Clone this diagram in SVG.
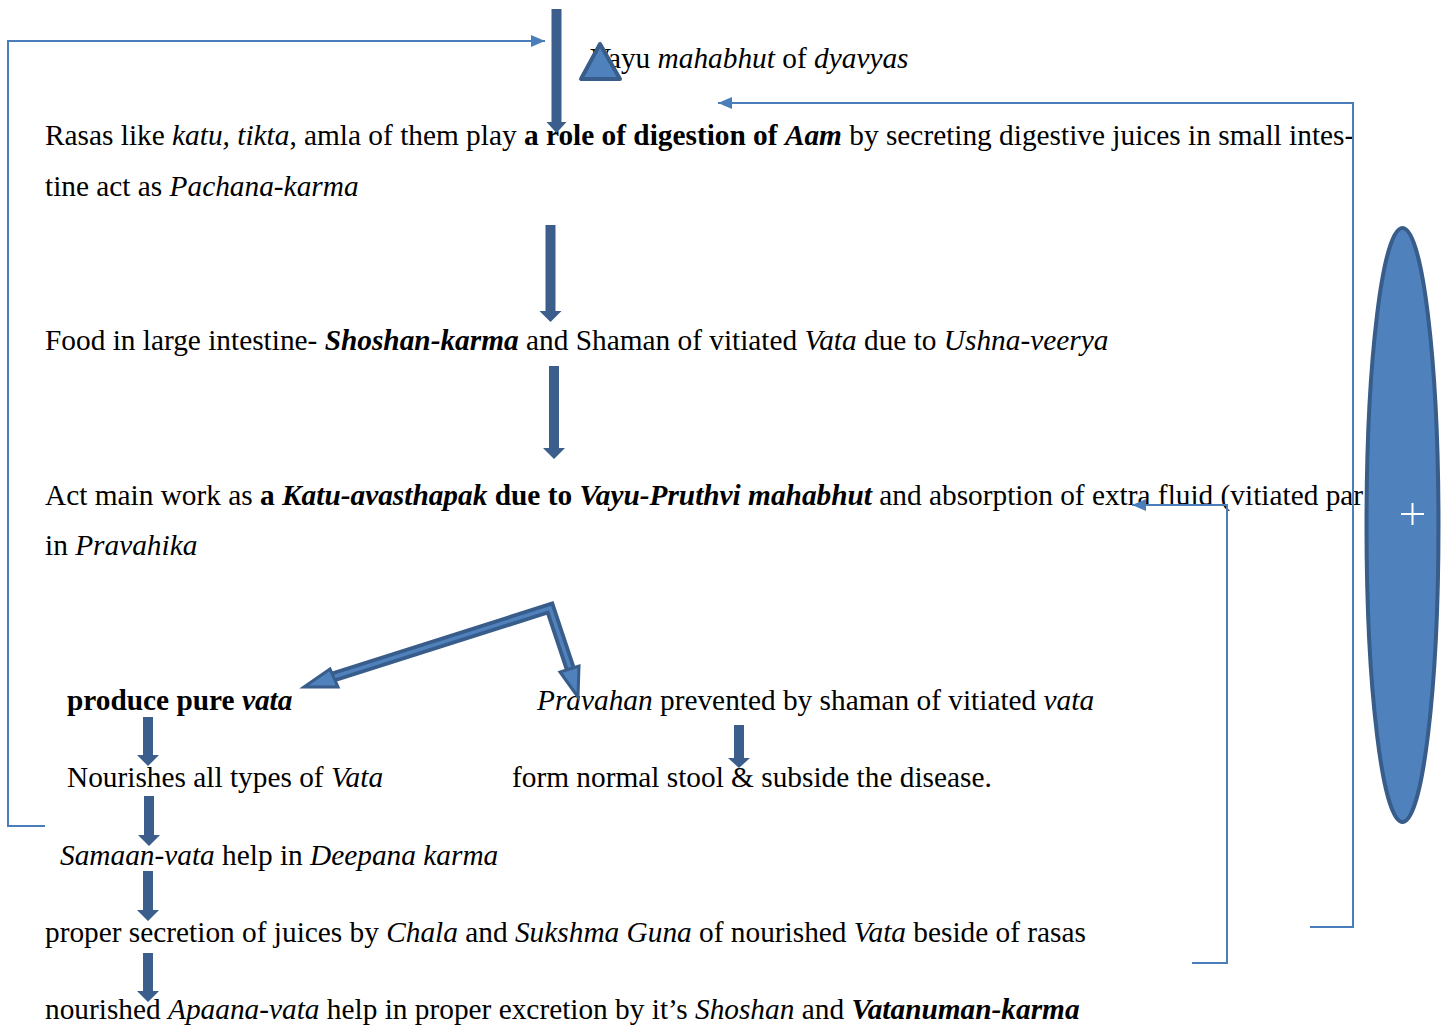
<svg xmlns="http://www.w3.org/2000/svg" width="1450" height="1026" viewBox="0 0 1450 1026">
<style>
text{font-family:"Liberation Serif","Times New Roman",serif;font-size:29.33px;fill:#000}
.i{font-style:italic}
.b{font-weight:bold}
.conn{fill:none;stroke:#4a7ebb;stroke-width:2}
.blk{fill:#3b5e8c;stroke:none}
.shape{fill:#4f81bd;stroke:#385d8a;stroke-width:4;stroke-linejoin:round}
</style>
<defs>
<marker id="ah" viewBox="0 0 14 12" markerWidth="14" markerHeight="12" refX="14" refY="6" orient="auto" markerUnits="userSpaceOnUse">
<path d="M0,0 L14,6 L0,12 z" fill="#4a7ebb"/>
</marker>
</defs>
<rect width="1450" height="1026" fill="#fff"/>

<g id="n-vayu"><text x="590" y="68">Vayu <tspan class="i">mahabhut</tspan> of <tspan class="i">dyavyas</tspan></text></g>
<g id="n-rasas">
<text x="45" y="145">Rasas like <tspan class="i">katu, tikta</tspan>, amla of them play <tspan class="b">a role of digestion of </tspan><tspan class="b i">Aam</tspan> by secreting digestive juices in small intes-</text>
<text x="45" y="196">tine act as <tspan class="i">Pachana-karma</tspan></text>
</g>
<g id="n-food"><text x="45" y="350">Food in large intestine- <tspan class="b i">Shoshan-karma</tspan> and Shaman of vitiated <tspan class="i">Vata</tspan> due to <tspan class="i">Ushna-veerya</tspan></text></g>
<g id="n-act">
<text x="45" y="505">Act main work as <tspan class="b">a </tspan><tspan class="b i">Katu-avasthapak</tspan><tspan class="b"> due to </tspan><tspan class="b i">Vayu-Pruthvi mahabhut</tspan> and absorption of extra fluid (vitiated par</text>
<text x="45" y="555">in <tspan class="i">Pravahika</tspan></text>
</g>
<g id="n-produce"><text x="67" y="710" class="b">produce pure <tspan class="i">vata</tspan></text></g>
<g id="n-pravahan"><text x="537" y="710"><tspan class="i">Pravahan</tspan> prevented by shaman of vitiated <tspan class="i">vata</tspan></text></g>
<g id="n-nourishes"><text x="67" y="787">Nourishes all types of <tspan class="i">Vata</tspan></text></g>
<g id="n-stool"><text x="512" y="787">form normal stool &amp; subside the disease.</text></g>
<g id="n-samaan"><text x="60" y="865"><tspan class="i">Samaan-vata</tspan> help in <tspan class="i">Deepana karma</tspan></text></g>
<g id="n-secretion"><text x="45" y="942">proper secretion of juices by <tspan class="i">Chala</tspan> and <tspan class="i">Sukshma Guna</tspan> of nourished <tspan class="i">Vata</tspan> beside of rasas</text></g>
<g id="n-apaana"><text x="45" y="1019">nourished <tspan class="i">Apaana-vata</tspan> help in proper excretion by it’s <tspan class="i">Shoshan</tspan> and <tspan class="b i">Vatanuman-karma</tspan></text></g>

<g id="n-triangle"><polygon class="shape" points="600,44 581,79 620,79"/></g>
<g id="n-ellipse">
<ellipse class="shape" cx="1402.5" cy="525" rx="36" ry="297"/>
<path d="M1401,514 H1424 M1412.5,503 V525" stroke="#fff" stroke-width="2" fill="none"/>
</g>

<g id="connectors">
<polyline class="conn" points="45,826 8,826 8,41 545,41" marker-end="url(#ah)"/>
<polyline class="conn" points="1310,927 1353,927 1353,103 718,103" marker-end="url(#ah)"/>
<polyline class="conn" points="1192,963 1227,963 1227,505 1132,505" marker-end="url(#ah)"/>

<polygon class="blk" points="551.5,9 561.5,9 561.5,122 566.5,122 556.5,133 546.5,122 551.5,122"/>
<polygon class="blk" points="545.5,225 555.5,225 555.5,311 561.5,311 550.5,322 539.5,311 545.5,311"/>
<polygon class="blk" points="549,366 559,366 559,448 565,448 554,459 543,448 549,448"/>
<polygon class="blk" points="143,717 153,717 153,755 159,755 148,766 137,755 143,755"/>
<polygon class="blk" points="144,796 154,796 154,835 160,835 149,846 138,835 144,835"/>
<polygon class="blk" points="143,871 153,871 153,910 159,910 148,921 137,910 143,910"/>
<polygon class="blk" points="143,953 153,953 153,991 159,991 148,1002 137,991 143,991"/>
<polygon class="blk" points="734,725 744,725 744,758 750,758 739,768 728,758 734,758"/>

<g id="bent-arrow">
<polyline points="333,677 550,608 570,668" fill="none" stroke="#385d8a" stroke-width="11" stroke-linejoin="miter"/>
<polyline points="333,677 550,608 570,668" fill="none" stroke="#4f81bd" stroke-width="3.5" stroke-linejoin="miter"/>
<polygon points="304,687 330,669 338,687" fill="#4f81bd" stroke="#385d8a" stroke-width="3" stroke-linejoin="miter"/>
<polygon points="578,697 560,672 579,666" fill="#4f81bd" stroke="#385d8a" stroke-width="3" stroke-linejoin="miter"/>
</g>
</g>
</svg>
